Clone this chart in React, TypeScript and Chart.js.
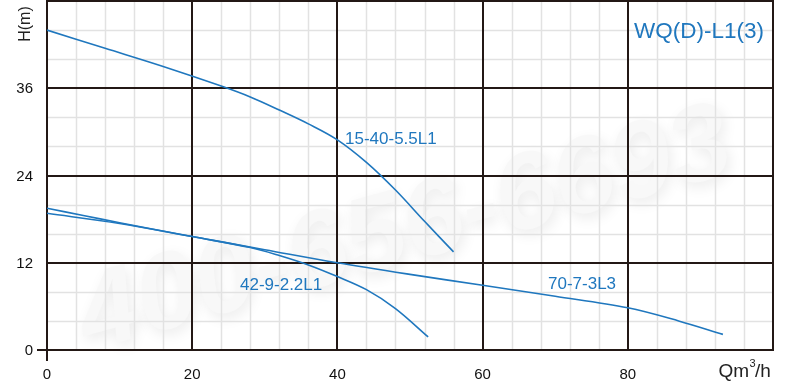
import React, { useEffect, useRef } from "react";
import { Chart, registerables } from "chart.js";

Chart.register(...registerables);

// ---- data ----
const seriesNames = ["15-40-5.5L1", "42-9-2.2L1", "70-7-3L3"];
const flowA = [0, 8, 16, 24, 28, 32, 36, 40, 44, 48, 52, 56];
const headA = [44, 41.5, 39.0, 36.3, 34.8, 33.0, 31.1, 28.9, 25.8, 22.0, 17.7, 13.5];
const flowB = [0, 5, 10, 20, 28, 32, 36, 40, 44, 48, 52.5];
const headB = [19.5, 18.5, 17.5, 15.6, 14.1, 13.0, 11.7, 10.1, 8.3, 5.7, 1.8];
const flowC = [0, 10, 20, 30, 40, 50, 60, 70, 80, 87, 93.1];
const headC = [18.8, 17.4, 15.6, 13.8, 12, 10.4, 8.9, 7.4, 5.8, 4.0, 2.15];
const xTickLabels = ["0", "20", "40", "60", "80"];
const yTickLabels = ["0", "12", "24", "36"];
const xTickValues = [0, 20, 40, 60, 80];
const yTickValues = [0, 12, 24, 36];
const title = "WQ(D)-L1(3)";
const yAxisTitle = "H(m)";
const watermark = "400-656-6693";

const BLUE = "#1f77be";
const DARK = "#231815";
const MINOR = "#e2e2e2";
const FONT = "'Liberation Sans', Arial, sans-serif";

const toPts = (xs: number[], ys: number[]) => xs.map((x, i) => ({ x, y: ys[i] }));

export default function App() {
  const ref = useRef<HTMLCanvasElement | null>(null);
  useEffect(() => {
    if (!ref.current) return;
    const bgPlugin = {
      id: "bg",
      beforeDatasetsDraw(chart: any) {
        const { ctx, chartArea } = chart;
        const xs = chart.scales.x;
        const ys = chart.scales.y;
        ctx.save();
        ctx.fillStyle = "#fff";
        ctx.fillRect(0, 0, chart.width, chart.height);
        // watermark
        ctx.save();
        ctx.translate(405, 232);
        ctx.rotate(-0.27);
        ctx.font = `italic bold 108px ${FONT}`;
        ctx.textAlign = "center";
        ctx.textBaseline = "middle";
        ctx.shadowColor = "rgba(0,0,0,0.08)";
        ctx.shadowBlur = 14;
        ctx.shadowOffsetX = 3;
        ctx.shadowOffsetY = 5;
        ctx.fillStyle = "rgba(248,248,248,1)";
        ctx.fillText(watermark, 0, 0);
        ctx.restore();
        // minor grid
        ctx.strokeStyle = MINOR;
        ctx.lineWidth = 1.5;
        for (let v = 0; v <= 100; v += 4) {
          if (v % 20 === 0) continue;
          const px = Math.round(xs.getPixelForValue(v)) + 0.5;
          ctx.beginPath();
          ctx.moveTo(px, chartArea.top);
          ctx.lineTo(px, chartArea.bottom);
          ctx.stroke();
        }
        for (let v = 0; v <= 48; v += 4) {
          if (v % 12 === 0) continue;
          const py = Math.round(ys.getPixelForValue(v)) + 0.5;
          ctx.beginPath();
          ctx.moveTo(chartArea.left, py);
          ctx.lineTo(chartArea.right, py);
          ctx.stroke();
        }
        // major grid
        ctx.strokeStyle = DARK;
        ctx.lineWidth = 2;
        for (let v = 0; v <= 100; v += 20) {
          const px = Math.round(xs.getPixelForValue(v));
          ctx.beginPath();
          ctx.moveTo(px, chartArea.top - 1);
          ctx.lineTo(px, v === 0 ? chartArea.bottom + 11 : chartArea.bottom + 1);
          ctx.stroke();
        }
        for (let v = 0; v <= 48; v += 12) {
          const py = Math.round(ys.getPixelForValue(v));
          ctx.beginPath();
          ctx.moveTo(v === 0 ? chartArea.left - 10 : chartArea.left - 1, py);
          ctx.lineTo(chartArea.right + 1, py);
          ctx.stroke();
        }
        ctx.restore();
      },
      afterDatasetsDraw(chart: any) {
        const { ctx } = chart;
        const xs = chart.scales.x;
        const ys = chart.scales.y;
        ctx.save();
        ctx.fillStyle = "#111";
        ctx.font = `15px ${FONT}`;
        ctx.textBaseline = "middle";
        ctx.textAlign = "right";
        yTickValues.forEach((v, i) => {
          ctx.fillText(yTickLabels[i], 33, ys.getPixelForValue(v) + 1);
        });
        ctx.textAlign = "center";
        xTickValues.forEach((v, i) => {
          ctx.fillText(xTickLabels[i], xs.getPixelForValue(v), 375);
        });
        // axis titles
        ctx.font = `19px ${FONT}`;
        ctx.textAlign = "right";
        ctx.fillStyle = "#222";
        ctx.fillText("Qm", 749, 372);
        ctx.font = `11px ${FONT}`;
        ctx.textAlign = "left";
        ctx.fillText("3", 749.5, 364);
        ctx.font = `19px ${FONT}`;
        ctx.fillText("/h", 755, 372);
        ctx.save();
        ctx.translate(26, 24);
        ctx.rotate(-Math.PI / 2);
        ctx.textAlign = "center";
        ctx.font = `16px ${FONT}`;
        ctx.fillText(yAxisTitle, 0, 0);
        ctx.restore();
        // series labels
        ctx.fillStyle = BLUE;
        ctx.font = `17px ${FONT}`;
        ctx.textAlign = "left";
        ctx.fillText(seriesNames[0], 345, 139);
        ctx.fillText(seriesNames[1], 240, 285);
        ctx.fillText(seriesNames[2], 548, 284);
        ctx.font = `22.5px ${FONT}`;
        ctx.fillText(title, 634, 32);
        ctx.restore();
      },
    };
    const ds = (data: any, label: string) => ({
      label,
      data,
      showLine: true,
      borderColor: BLUE,
      borderWidth: 1.6,
      pointRadius: 0,
      tension: 0.35,
      fill: false,
    });
    const chart = new Chart(ref.current, {
      type: "scatter",
      data: {
        datasets: [
          ds(toPts(flowA, headA), seriesNames[0]),
          ds(toPts(flowB, headB), seriesNames[1]),
          ds(toPts(flowC, headC), seriesNames[2]),
        ],
      },
      options: {
        animation: false,
        responsive: false,
        layout: { padding: { left: 47, right: 17, top: 1, bottom: 41 } },
        plugins: { legend: { display: false }, tooltip: { enabled: false } },
        scales: {
          x: { type: "linear", min: 0, max: 100, display: false },
          y: { type: "linear", min: 0, max: 48, display: false },
        },
      },
      plugins: [bgPlugin],
    });
    return () => chart.destroy();
  }, []);
  return (
    <div style={{ position: "absolute", left: 0, top: 0, width: 790, height: 391, background: "#fff" }}>
      <canvas ref={ref} width={790} height={391} style={{ display: "block" }} />
    </div>
  );
}
